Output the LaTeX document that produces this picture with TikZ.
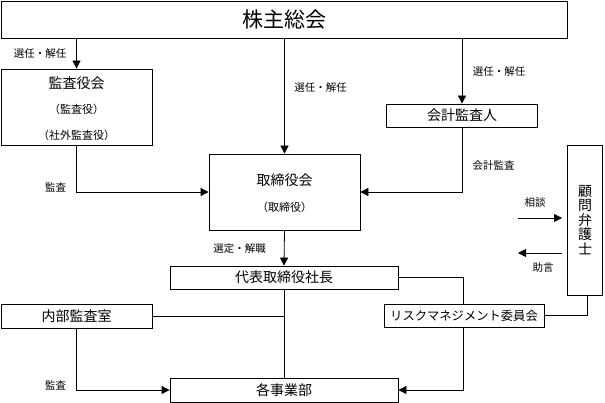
\documentclass[tikz,border=0pt]{standalone}
\usepackage{fontspec}
\setmainfont{Noto Sans CJK JP}
\usetikzlibrary{arrows.meta}
\tikzset{
  box/.style={draw, rectangle, inner sep=0pt, line width=0.8pt},
  head/.style={font=\fontsize{14}{16}\selectfont, inner sep=0pt},
  sub/.style={font=\fontsize{11}{13}\selectfont, inner sep=0pt},
  lbl/.style={font=\fontsize{10.5}{12}\selectfont, inner sep=0pt},
  arr/.style={-{Triangle[length=8pt,width=8pt]}},
}
\begin{document}
\begin{tikzpicture}[x=1pt, y=-1pt, line width=0.8pt]
\useasboundingbox (0,0) rectangle (605,403);
% top
\node[box, minimum width=566pt, minimum height=37pt, font=\fontsize{21}{24}\selectfont] (soukai) at (284,19.5) {株主総会};
% left
\node[box, minimum width=151pt, minimum height=76pt] (kansa) at (76.5,107) {};
\node[head] (kansa-t) at (76.5,83) {監査役会};
\node[sub] (kansa-s1) at (76.5,109) {（監査役）};
\node[sub] (kansa-s2) at (76.5,135) {（社外監査役）};
% middle
\node[box, minimum width=151pt, minimum height=76pt] (torishimari) at (284.5,192) {};
\node[head] (torishimari-t) at (284.5,180) {取締役会};
\node[sub] (torishimari-s) at (284.5,207) {（取締役）};
% right
\node[box, head, minimum width=151pt, minimum height=23pt] (kaikei) at (462,115.5) {会計監査人};
\node[box, minimum width=35pt, minimum height=150pt] (komon) at (585,220.5) {};
\node[head, align=center, font=\fontsize{14}{14.5}\selectfont] (komon-t) at (585,220) {顧\\問\\弁\\護\\士};
% lower
\node[box, head, minimum width=228pt, minimum height=23pt] (daihyo) at (284,277.5) {代表取締役社長};
\node[box, head, minimum width=151pt, minimum height=24pt] (naibu) at (76.5,316) {内部監査室};
\node[box, head, font=\fontsize{12.3}{14}\selectfont, minimum width=160pt, minimum height=23pt] (risk) at (464,315.5) {リスクマネジメント委員会};
\node[box, head, minimum width=228pt, minimum height=24pt] (jigyo) at (284,390) {各事業部};
% connectors
\draw[arr] (soukai.south -| kansa.north) -- (kansa.north);
\draw[arr] (soukai.south -| torishimari.north) -- (torishimari.north);
\draw[arr] (soukai.south -| kaikei.north) -- (kaikei.north);
\draw[arr] (kansa.south) |- (torishimari.west);
\draw[arr] (kaikei.south) |- (torishimari.east);
\draw[arr] (torishimari.south) -- (daihyo.north);
\draw (daihyo.east) -| ([xshift=-1pt]risk.north);
\draw[arr] ([xshift=-1pt]risk.south) |- (jigyo.east);
\draw ([xshift=2pt]komon.south) |- (risk.east);
\draw (naibu.east) -- (naibu.east -| daihyo.south);
\draw (daihyo.south) -- (jigyo.north);
\draw[arr] (naibu.south) |- (jigyo.west);
\coordinate (soudan-s) at (518,218);
\coordinate (soudan-e) at (562,218);
\coordinate (jogen-s) at (562,253);
\coordinate (jogen-e) at (518,253);
\draw[arr] (soudan-s) -- (soudan-e);
\draw[arr] (jogen-s) -- (jogen-e);
% labels
\node[lbl] (l-sennin1) at (40,54) {選任・解任};
\node[lbl] (l-sennin2) at (320.5,88) {選任・解任};
\node[lbl] (l-sennin3) at (499,72) {選任・解任};
\node[lbl] (l-kansa1) at (55.5,187) {監査};
\node[lbl] (l-kaikei) at (493.5,166) {会計監査};
\node[lbl] (l-sentei) at (239.5,249) {選定・解職};
\node[lbl] (l-soudan) at (535,203) {相談};
\node[lbl] (l-jogen) at (543,268) {助言};
\node[lbl] (l-kansa2) at (55.5,385) {監査};
\end{tikzpicture}
\end{document}
